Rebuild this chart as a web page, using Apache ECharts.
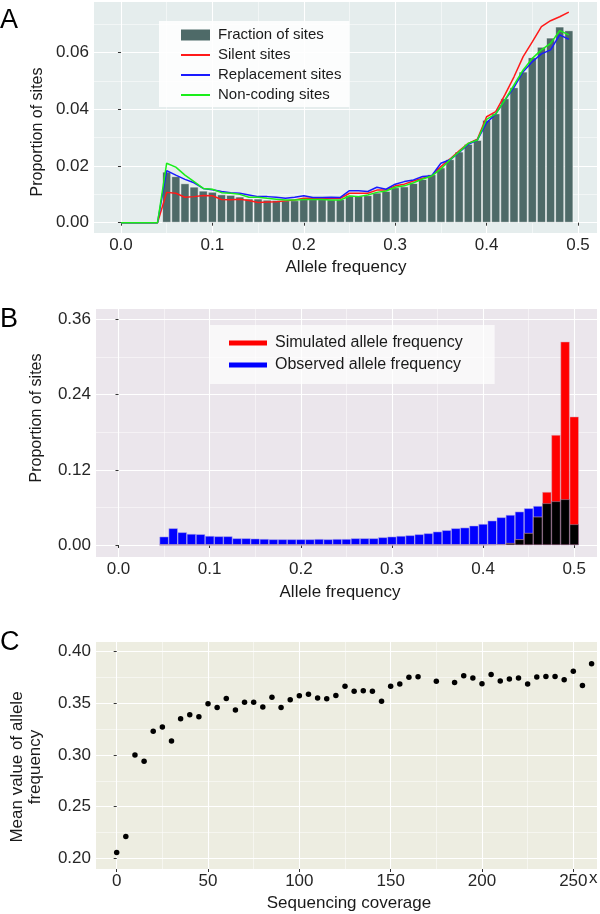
<!DOCTYPE html>
<html><head><meta charset="utf-8">
<script src="https://cdn.jsdelivr.net/npm/echarts@6/dist/echarts.min.js"></script>
<style>html,body{margin:0;padding:0;background:#fff}#c{width:600px;height:914px}</style>
</head><body><div id="c"></div>
<script>
// ---------- Panel A ----------
const aLineX = [0.00,0.01,0.02,0.03,0.04,0.05,0.06,0.07,0.08,0.09,0.10,0.11,0.12,0.13,0.14,0.15,0.16,0.17,0.18,0.19,0.20,0.21,0.22,0.23,0.24,0.25,0.26,0.27,0.28,0.29,0.30,0.31,0.32,0.33,0.34,0.35,0.36,0.37,0.38,0.39,0.40,0.41,0.42,0.43,0.44,0.45,0.46,0.47,0.48,0.49];
const silent = [0,0,0,0,0,0.0107,0.0104,0.0090,0.0092,0.0096,0.0095,0.0082,0.0081,0.0083,0.0078,0.0071,0.0073,0.0074,0.0077,0.0080,0.0086,0.0086,0.0086,0.0085,0.0086,0.0104,0.0104,0.0104,0.0115,0.0115,0.0130,0.0136,0.0147,0.0157,0.0165,0.0198,0.0225,0.0254,0.0280,0.0295,0.0374,0.0392,0.0451,0.0515,0.0586,0.0638,0.0692,0.0713,0.0727,0.0743];
const replacement = [0,0,0,0,0,0.0184,0.0168,0.0153,0.0141,0.0121,0.0116,0.0110,0.0106,0.0104,0.0098,0.0092,0.0092,0.0090,0.0086,0.0090,0.0095,0.0089,0.0089,0.0090,0.0089,0.0113,0.0113,0.0110,0.0125,0.0118,0.0136,0.0145,0.0151,0.0163,0.0166,0.0210,0.0222,0.0248,0.0277,0.0292,0.0353,0.0384,0.0433,0.0478,0.0533,0.0568,0.0596,0.0610,0.0663,0.0647];
const noncoding = [0,0,0,0,0,0.0210,0.0196,0.0168,0.0145,0.0121,0.0118,0.0106,0.0104,0.0100,0.0090,0.0090,0.0086,0.0083,0.0080,0.0080,0.0082,0.0082,0.0082,0.0080,0.0080,0.0094,0.0092,0.0098,0.0107,0.0112,0.0125,0.0130,0.0141,0.0154,0.0165,0.0190,0.0222,0.0250,0.0280,0.0292,0.0365,0.0384,0.0433,0.0486,0.0539,0.0580,0.0610,0.0633,0.0678,0.0663];
const aBinX = [0.05,0.06,0.07,0.08,0.09,0.10,0.11,0.12,0.13,0.14,0.15,0.16,0.17,0.18,0.19,0.20,0.21,0.22,0.23,0.24,0.25,0.26,0.27,0.28,0.29,0.30,0.31,0.32,0.33,0.34,0.35,0.36,0.37,0.38,0.39,0.40,0.41,0.42,0.43,0.44,0.45,0.46,0.47,0.48,0.49];
const fraction = [0.0180,0.0164,0.0139,0.0127,0.0113,0.0109,0.0100,0.0098,0.0092,0.0085,0.0085,0.0081,0.0080,0.0079,0.0079,0.0083,0.0083,0.0083,0.0082,0.0083,0.0097,0.0096,0.0097,0.0106,0.0112,0.0125,0.0128,0.0140,0.0154,0.0171,0.0195,0.0224,0.0251,0.0278,0.0292,0.0363,0.0386,0.0439,0.0478,0.0533,0.0584,0.0621,0.0653,0.0692,0.0679];
const aXTicks = [0, 0.1, 0.2, 0.3, 0.4, 0.5];
const aXMinor = [0.05, 0.15, 0.25, 0.35, 0.45];
const aYTicks = [0, 0.02, 0.04, 0.06];
const aYMinor = [0.01, 0.03, 0.05, 0.07];

// ---------- Panel B ----------
const bBinX = [0.05,0.06,0.07,0.08,0.09,0.10,0.11,0.12,0.13,0.14,0.15,0.16,0.17,0.18,0.19,0.20,0.21,0.22,0.23,0.24,0.25,0.26,0.27,0.28,0.29,0.30,0.31,0.32,0.33,0.34,0.35,0.36,0.37,0.38,0.39,0.40,0.41,0.42,0.43,0.44,0.45,0.46,0.47,0.48,0.49,0.50];
const observed = [0.0133,0.0266,0.0202,0.0176,0.0171,0.0144,0.0138,0.0138,0.0106,0.0106,0.0101,0.0096,0.0090,0.0090,0.0090,0.0090,0.0090,0.0095,0.0090,0.0095,0.0095,0.0106,0.0106,0.0106,0.0122,0.0133,0.0144,0.0154,0.0170,0.0186,0.0213,0.0235,0.0266,0.0277,0.0308,0.0335,0.0388,0.0441,0.0479,0.0532,0.0585,0.0622,0.0665,0.0697,0.0729,0.0330];
const simulated = [0,0,0,0,0,0,0,0,0,0,0,0,0,0,0,0,0,0,0,0,0,0,0,0,0,0,0,0,0,0,0,0,0,0,0,0,0.0005,0.0010,0.0030,0.0090,0.0190,0.0450,0.0846,0.1755,0.3244,0.2048];
const bXTicks = [0, 0.1, 0.2, 0.3, 0.4, 0.5];
const bXMinor = [0.05, 0.15, 0.25, 0.35, 0.45];
const bYTicks = [0, 0.12, 0.24, 0.36];
const bYMinor = [0.06, 0.18, 0.30];

// ---------- Panel C ----------
const coverage = [0,5,10,15,20,25,30,35,40,45,50,55,60,65,70,75,80,85,90,95,100,105,110,115,120,125,130,135,140,145,150,155,160,165,175,185,190,195,200,205,210,215,220,225,230,235,240,245,250,255,260];
const meanAF = [0.2055,0.221,0.300,0.294,0.323,0.327,0.3135,0.335,0.339,0.337,0.3497,0.346,0.3548,0.3435,0.351,0.351,0.3465,0.356,0.346,0.3535,0.3574,0.3587,0.3552,0.3545,0.3577,0.3665,0.3616,0.3623,0.3616,0.352,0.3665,0.3687,0.3752,0.3758,0.3713,0.3703,0.3768,0.3745,0.369,0.378,0.3716,0.3735,0.3745,0.3687,0.3755,0.3761,0.3761,0.3729,0.381,0.3674,0.3884];
const cXTicks = [0, 50, 100, 150, 200, 250];
const cXMinor = [25, 75, 125, 175, 225];
const cYTicks = [0.20, 0.25, 0.30, 0.35, 0.40];
const cYMinor = [0.225, 0.275, 0.325, 0.375];

const FONT = 'Liberation Sans, Arial, sans-serif';
const zip = (xs, ys) => xs.map((x, i) => [x, ys[i]]);
const overlap = observed.map((v, i) => Math.min(v, simulated[i]));
const LINE_ICON = 'path://M0,0 L29,0 L29,2 L0,2 Z';

function majorAxis(gridIndex, min, max, ticks, fmt, isX) {
  return {
    type: 'value', gridIndex, min, max,
    axisLine: { show: false },
    axisTick: { show: true, length: 3, lineStyle: { color: '#333', width: 1 }, customValues: ticks },
    axisLabel: { customValues: ticks, formatter: fmt, color: '#262626', fontSize: 17, fontFamily: FONT, margin: isX ? 4 : 5 },
    splitLine: { show: true, lineStyle: { color: '#ffffff', width: 1.1 } }
  };
}
function minorAxis(gridIndex, min, max, ticks) {
  return {
    type: 'value', gridIndex, min, max,
    axisLine: { show: false },
    axisTick: { show: false, customValues: ticks },
    axisLabel: { show: false, customValues: ticks },
    splitLine: { show: true, lineStyle: { color: '#ffffff', width: 0.5 } }
  };
}
const f1 = v => v.toFixed(1), f2 = v => v.toFixed(2), f0 = v => String(v);

const chart = echarts.init(document.getElementById('c'), null, { renderer: 'canvas' });
chart.setOption({
  animation: false,
  grid: [
    { left: 94, top: 2, width: 503, height: 231, show: true, backgroundColor: '#e5eded', borderWidth: 0 },
    { left: 96, top: 309, width: 501, height: 248, show: true, backgroundColor: '#ebe6ec', borderWidth: 0 },
    { left: 96, top: 642, width: 501, height: 227, show: true, backgroundColor: '#edede1', borderWidth: 0 }
  ],
  xAxis: [
    majorAxis(0, -0.0295, 0.5208, aXTicks, f1, true),
    minorAxis(0, -0.0295, 0.5208, aXMinor),
    majorAxis(1, -0.0247, 0.525, bXTicks, f1, true),
    minorAxis(1, -0.0247, 0.525, bXMinor),
    majorAxis(2, -11.33, 262.97, cXTicks, f0, true),
    minorAxis(2, -11.33, 262.97, cXMinor)
  ],
  yAxis: [
    majorAxis(0, -0.00364, 0.0779, aYTicks, f2, false),
    minorAxis(0, -0.00364, 0.0779, aYMinor),
    majorAxis(1, -0.0191, 0.3766, bYTicks, f2, false),
    minorAxis(1, -0.0191, 0.3766, bYMinor),
    majorAxis(2, 0.1896, 0.4094, cYTicks, f2, false),
    minorAxis(2, 0.1896, 0.4094, cYMinor)
  ],
  legend: [
    {
      data: [
        { name: 'Fraction of sites', icon: 'rect', itemStyle: { borderWidth: 0 } },
        { name: 'Silent sites', icon: LINE_ICON },
        { name: 'Replacement sites', icon: LINE_ICON },
        { name: 'Non-coding sites', icon: LINE_ICON }
      ],
      orient: 'vertical', left: 159, top: 21, padding: [6, 8, 4, 22], itemGap: 4,
      itemWidth: 29, itemHeight: 11, selectedMode: false, symbolKeepAspect: true,
      backgroundColor: 'rgba(255,255,255,0.88)',
      textStyle: { fontSize: 15, color: '#1a1a1a', fontFamily: FONT, lineHeight: 16, padding: [0, 0, 0, 3] }
    },
    {
      data: [
        { name: 'Simulated allele frequency', icon: 'rect', itemStyle: { borderWidth: 0 } },
        { name: 'Observed allele frequency', icon: 'rect', itemStyle: { borderWidth: 0 } }
      ],
      orient: 'vertical', left: 209, top: 325, padding: [9, 32, 10, 20], itemGap: 4,
      itemWidth: 38, itemHeight: 5, selectedMode: false,
      backgroundColor: 'rgba(255,255,255,0.7)',
      textStyle: { fontSize: 16, color: '#1a1a1a', fontFamily: FONT, lineHeight: 18, padding: [0, 0, 0, 3] }
    }
  ],
  series: [
    { type: 'bar', name: 'Fraction of sites', xAxisIndex: 0, yAxisIndex: 0, data: zip(aBinX, fraction),
      barWidth: 9, itemStyle: { color: '#4e6a68', borderColor: 'rgba(255,255,255,0.7)', borderWidth: 0.8 } },
    { type: 'line', name: 'Silent sites', xAxisIndex: 0, yAxisIndex: 0, data: zip(aLineX, silent),
      symbol: 'none', color: '#ff1a1a', lineStyle: { width: 1.5, color: '#ff1a1a' } },
    { type: 'line', name: 'Replacement sites', xAxisIndex: 0, yAxisIndex: 0, data: zip(aLineX, replacement),
      symbol: 'none', color: '#1a1aff', lineStyle: { width: 1.5, color: '#1a1aff' } },
    { type: 'line', name: 'Non-coding sites', xAxisIndex: 0, yAxisIndex: 0, data: zip(aLineX, noncoding),
      symbol: 'none', color: '#1aee1a', lineStyle: { width: 1.5, color: '#1aee1a' } },

    { type: 'bar', name: 'Observed allele frequency', xAxisIndex: 2, yAxisIndex: 2, data: zip(bBinX, observed),
      barWidth: 9.1, barGap: '-100%', color: '#0000ff', itemStyle: { color: '#0000ff', borderColor: '#b8b0e8', borderWidth: 0.5 } },
    { type: 'bar', name: 'Simulated allele frequency', xAxisIndex: 2, yAxisIndex: 2, data: zip(bBinX, simulated),
      barWidth: 9.1, barGap: '-100%', color: '#ff0000', itemStyle: { color: '#ff0000', borderColor: '#d8b0c0', borderWidth: 0.5 } },
    { type: 'bar', name: 'Overlap', xAxisIndex: 2, yAxisIndex: 2, data: zip(bBinX, overlap),
      barWidth: 9.1, barGap: '-100%', itemStyle: { color: '#000000', borderColor: '#a890b0', borderWidth: 0.5 } },

    { type: 'scatter', name: 'Mean', xAxisIndex: 4, yAxisIndex: 4, data: zip(coverage, meanAF),
      symbolSize: 5.5, itemStyle: { color: '#000000', opacity: 1 } }
  ],
  graphic: [
    { type: 'text', x: 0, y: 21, style: { text: 'A', font: '27px ' + FONT, fill: '#000', verticalAlign: 'middle' } },
    { type: 'text', x: 0, y: 320, style: { text: 'B', font: '27px ' + FONT, fill: '#000', verticalAlign: 'middle' } },
    { type: 'text', x: 0, y: 643, style: { text: 'C', font: '27px ' + FONT, fill: '#000', verticalAlign: 'middle' } },
    { type: 'text', x: 346, y: 267, style: { text: 'Allele frequency', font: '17px ' + FONT, fill: '#1a1a1a', align: 'center', verticalAlign: 'middle' } },
    { type: 'text', x: 38, y: 132, rotation: Math.PI / 2, style: { text: 'Proportion of sites', font: '16px ' + FONT, fill: '#1a1a1a', align: 'center', verticalAlign: 'middle' } },
    { type: 'text', x: 340, y: 592, style: { text: 'Allele frequency', font: '17px ' + FONT, fill: '#1a1a1a', align: 'center', verticalAlign: 'middle' } },
    { type: 'text', x: 37, y: 418, rotation: Math.PI / 2, style: { text: 'Proportion of sites', font: '16px ' + FONT, fill: '#1a1a1a', align: 'center', verticalAlign: 'middle' } },
    { type: 'text', x: 349, y: 903, style: { text: 'Sequencing coverage', font: '17px ' + FONT, fill: '#1a1a1a', align: 'center', verticalAlign: 'middle' } },
    { type: 'text', x: 26, y: 767, rotation: Math.PI / 2, style: { text: 'Mean value of allele\nfrequency', font: '17px ' + FONT, lineHeight: 18, fill: '#1a1a1a', align: 'center', verticalAlign: 'middle' } },
    { type: 'text', x: 589, y: 878, style: { text: 'x', font: '17px ' + FONT, fill: '#262626', verticalAlign: 'middle' } }
  ]
});
</script>
</body></html>
